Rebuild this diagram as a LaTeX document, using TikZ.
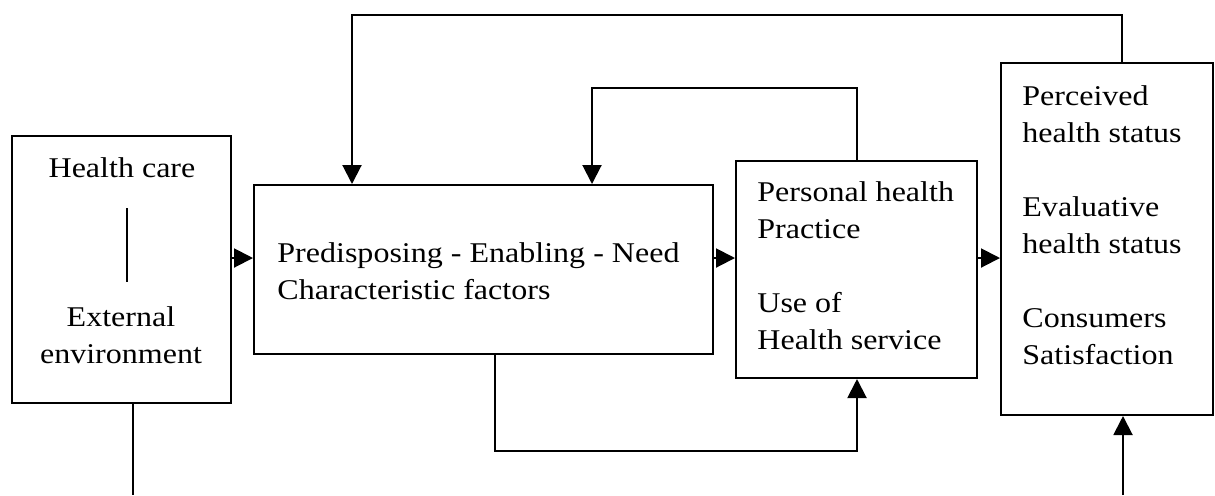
\documentclass[tikz,border=0pt]{standalone}
\usepackage{fontspec}
\setmainfont{Liberation Serif}[FakeStretch=1.12]
\usetikzlibrary{arrows.meta}

\begin{document}
\begin{tikzpicture}[x=0.5pt,y=-0.5pt,
    box/.style={draw,line width=1pt,inner sep=0pt},
    txt/.style={inner sep=0pt,align=left,font=\fontsize{14.3pt}{18.5pt}\selectfont},
    flow/.style={line width=1pt,-{Triangle[length=9.5pt,width=9.5pt]}}]
  \useasboundingbox (0,0) rectangle (1215,495);
  % boxes
  \node[box,minimum width=109.5pt,minimum height=133.5pt] (care) at (121.5,269.5) {};
  \node[box,minimum width=229.5pt,minimum height=84.5pt] (pred) at (483.5,269.5) {};
  \node[box,minimum width=120.5pt,minimum height=108.5pt] (prac) at (856.5,269.5) {};
  \node[box,minimum width=106pt,minimum height=176pt] (stat) at (1107,239) {};
  % texts (base = last line)
  \node[txt,anchor=base] (hc) at (122,177) {Health care};
  \node[txt,anchor=base,align=center] (ext) at (121,363) {External\\environment};
  \draw[line width=0.8pt] (127,208) -- (127,282);
  \node[txt,anchor=base west] (predtxt) at (277,299) {Predisposing - Enabling - Need\\Characteristic factors};
  \node[txt,anchor=base west] (practxt) at (757,349) {Personal health\\Practice\\[18.5pt]Use of\\Health service};
  \node[txt,anchor=base west] (stattxt) at (1022,364) {Perceived\\health status\\[18.5pt]Evaluative\\health status\\[18.5pt]Consumers\\Satisfaction};
  % bends
  \coordinate (row) at (0,258);
  \coordinate (topR) at (1122,15);
  \coordinate (topL) at (352,15);
  \coordinate (midR) at (857,88);
  \coordinate (midL) at (592,88);
  \coordinate (lowL) at (495,451);
  \coordinate (lowR) at (857,451);
  \coordinate (outA) at (133,495);
  \coordinate (inD) at (1123,495);
  % connectors
  \draw[flow] (care.east |- row) -- (pred.west |- row);
  \draw[flow] (pred.east |- row) -- (prac.west |- row);
  \draw[flow] (prac.east |- row) -- (stat.west |- row);
  \draw[flow] (topR |- stat.north) |- (topL) -- (topL |- pred.north);
  \draw[flow] (midR |- prac.north) |- (midL) -- (midL |- pred.north);
  \draw[flow] (lowL |- pred.south) |- (lowR) -- (lowR |- prac.south);
  \draw[line width=1pt] (outA |- care.south) -- (outA);
  \draw[flow] (inD) -- (inD |- stat.south);
\end{tikzpicture}
\end{document}
